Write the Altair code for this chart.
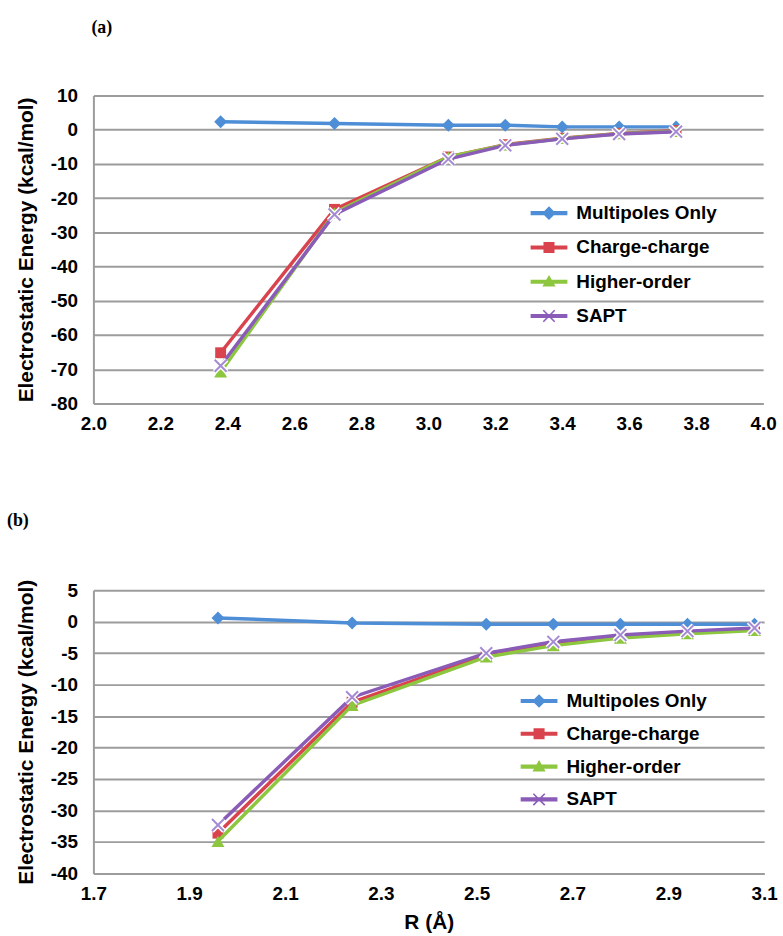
import altair as alt
import pandas as pd

SERIES = ["Multipoles Only", "Charge-charge", "Higher-order", "SAPT"]
LINE_COLORS = ["#4d8ed6", "#d9434e", "#8dc63f", "#8a5cb8"]
MARKER_COLORS = ["#4d8ed6", "#d9434e", "#8dc63f", "#a58bd3"]

# ---- panel (a) ----
R_A = [2.38, 2.72, 3.06, 3.23, 3.40, 3.57, 3.74]
MP_A = [2.3, 1.8, 1.3, 1.3, 0.8, 0.8, 0.8]
CC_A = [-65.2, -23.3, -8.0, -4.4, -2.5, -1.1, -0.3]
HO_A = [-70.8, -24.3, -8.0, -4.5, -2.6, -1.2, -0.5]
SAPT_A = [-69.0, -24.8, -8.6, -4.6, -2.7, -1.3, -0.6]
X_TICKS_A = [2.0, 2.2, 2.4, 2.6, 2.8, 3.0, 3.2, 3.4, 3.6, 3.8, 4.0]
Y_TICKS_A = [10, 0, -10, -20, -30, -40, -50, -60, -70, -80]

# ---- panel (b) ----
R_B = [1.96, 2.24, 2.52, 2.66, 2.80, 2.94, 3.08]
MP_B = [0.6, -0.2, -0.4, -0.4, -0.4, -0.4, -0.4]
CC_B = [-33.6, -12.8, -5.3, -3.5, -2.4, -1.7, -1.2]
HO_B = [-34.9, -13.3, -5.6, -3.8, -2.6, -1.9, -1.4]
SAPT_B = [-32.3, -12.0, -5.0, -3.2, -2.1, -1.5, -1.0]
X_TICKS_B = [1.7, 1.9, 2.1, 2.3, 2.5, 2.7, 2.9, 3.1]
Y_TICKS_B = [5, 0, -5, -10, -15, -20, -25, -30, -35, -40]

FONT = "Liberation Sans, Arial, Helvetica, sans-serif"
SERIF = "Liberation Serif, Times New Roman, serif"
GRID = "#9c9c9c"

X_PATH = "M-1,-1L1,1M-1,1L1,-1"
LINE_SEG = "M-1,-0.11L1,-0.11L1,0.11L-1,0.11Z"
LEGEND_PATHS = [
    LINE_SEG + "M0,-0.37L0.37,0L0,0.37L-0.37,0Z",
    LINE_SEG + "M-0.3,-0.3L0.3,-0.3L0.3,0.3L-0.3,0.3Z",
    LINE_SEG + "M0,-0.36L0.36,0.26L-0.36,0.26Z",
    LINE_SEG + "M-0.34,-0.28L-0.28,-0.34L0.34,0.28L0.28,0.34Z"
    "M0.28,-0.34L0.34,-0.28L-0.28,0.34L-0.34,0.28Z",
]
MARK_SHAPES = ["diamond", "square", "triangle-up"]
MARK_SIZES = [169, 121, 169]


def make_df(r, vals):
    rows = []
    for s, v in zip(SERIES, vals):
        for ri, vi in zip(r, v):
            rows.append({"R": ri, "E": vi, "series": s})
    return pd.DataFrame(rows)


def panel(df, xdom, xticks, ydom, yticks, w, h, tag, tag_dx, xtitle, legx, legy, rowpad):
    xaxis_kw = dict(values=xticks, format=".1f", grid=False, ticks=False, labelFlush=False,
                    domainColor=GRID, domainWidth=2, labelPadding=11, titlePadding=8)
    if xtitle:
        xaxis = alt.Axis(title=xtitle, **xaxis_kw)
    else:
        xaxis = alt.Axis(title=None, **xaxis_kw)
    xenc = alt.X("R:Q", scale=alt.Scale(domain=xdom, nice=False, zero=False), axis=xaxis)
    yenc = alt.Y(
        "E:Q",
        scale=alt.Scale(domain=ydom, nice=False, zero=False),
        axis=alt.Axis(
            values=yticks, title="Electrostatic Energy (kcal/mol)", grid=True,
            gridColor=GRID, gridWidth=2, ticks=False, domainColor=GRID, domainWidth=2,
            labelPadding=16, titlePadding=14, labelFlush=False,
            labelExpr="datum.value < 0 ? '-' + format(-datum.value, 'd') : format(datum.value, 'd')",
        ),
    )
    base = alt.Chart(df)
    layers = []
    for i, s in enumerate(SERIES):
        sub = base.transform_filter(alt.datum.series == s)
        layers.append(sub.mark_line(color=LINE_COLORS[i], strokeWidth=3.5).encode(x=xenc, y=yenc))
        if s == "SAPT":
            layers.append(sub.mark_point(shape=X_PATH, size=144, filled=False, color="white",
                                         strokeWidth=5, opacity=1).encode(x=xenc, y=yenc))
            layers.append(sub.mark_point(shape=X_PATH, size=144, filled=False, color=MARKER_COLORS[i],
                                         strokeWidth=2, opacity=1).encode(x=xenc, y=yenc))
        else:
            layers.append(sub.mark_point(shape=MARK_SHAPES[i], size=MARK_SIZES[i], filled=True,
                                         color=MARKER_COLORS[i], opacity=1).encode(x=xenc, y=yenc))
    leg = alt.Legend(orient="none", legendX=legx, legendY=legy, title=None,
                     labelFont=FONT, labelFontSize=19, labelFontWeight="bold", labelColor="black",
                     symbolSize=1369, symbolStrokeWidth=0, rowPadding=rowpad, labelOffset=9,
                     padding=0, symbolOffset=0)
    legend_layer = base.transform_filter("false").mark_point(filled=True, size=1369, opacity=1).encode(
        color=alt.Color("series:N", scale=alt.Scale(domain=SERIES, range=LINE_COLORS), legend=leg),
        shape=alt.Shape("series:N", scale=alt.Scale(domain=SERIES, range=LEGEND_PATHS), legend=leg),
    )
    layers.append(legend_layer)
    return alt.layer(*layers).properties(
        width=w, height=h,
        title=alt.TitleParams(tag, anchor="start", frame="group", dx=tag_dx, offset=50,
                              font=SERIF, fontSize=18, fontWeight="bold", color="black"),
    )


df_a = make_df(R_A, [MP_A, CC_A, HO_A, SAPT_A])
df_b = make_df(R_B, [MP_B, CC_B, HO_B, SAPT_B])

pa = panel(df_a, [2.0, 4.0], X_TICKS_A, [-80, 10], Y_TICKS_A, 674, 310, "(a)", -2, None, 440, 100, 5.5)
pb = panel(df_b, [1.7, 3.1], X_TICKS_B, [-40, 5], Y_TICKS_B, 675, 285, "(b)", -87, "R (Å)", 430, 93, 4)

chart = (
    alt.vconcat(pa, pb, spacing=79)
    .resolve_scale(color="independent", shape="independent")
    .resolve_legend(color="independent", shape="independent")
    .properties(padding={"left": 7, "top": 16, "right": 5, "bottom": 5})
    .configure_view(stroke=None)
    .configure_axis(labelFont=FONT, labelFontSize=19, labelFontWeight="bold", labelColor="black",
                    titleFont=FONT, titleFontSize=21, titleFontWeight="bold", titleColor="black")
)

chart.save("out.html", embed_options={"renderer": "svg", "actions": False})
